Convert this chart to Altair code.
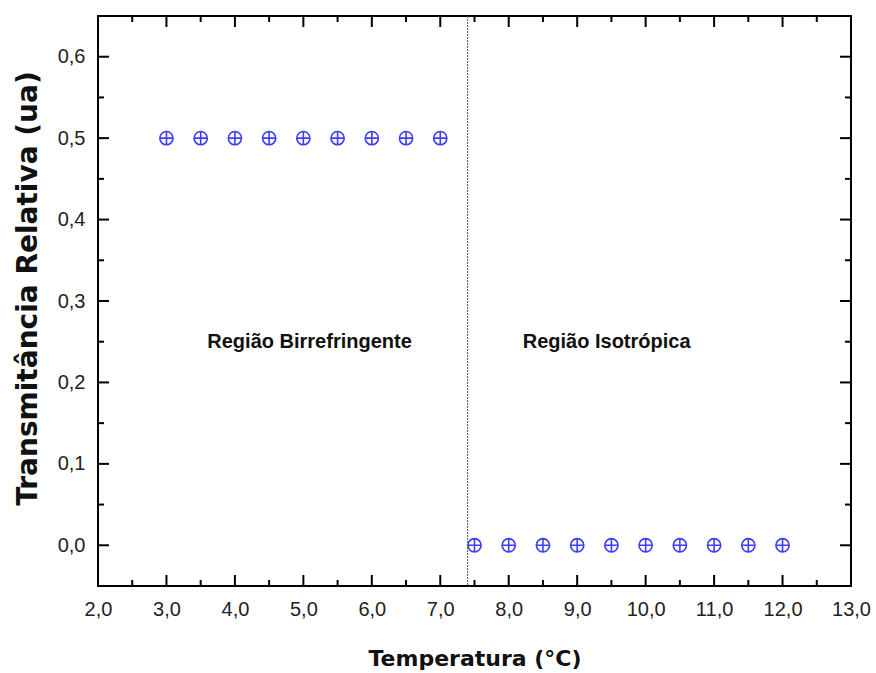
import altair as alt
import pandas as pd

# ---- data ----
temp_birref = [3.0, 3.5, 4.0, 4.5, 5.0, 5.5, 6.0, 6.5, 7.0]
trans_birref = [0.5, 0.5, 0.5, 0.5, 0.5, 0.5, 0.5, 0.5, 0.5]
temp_iso = [7.5, 8.0, 8.5, 9.0, 9.5, 10.0, 10.5, 11.0, 11.5, 12.0]
trans_iso = [0.0, 0.0, 0.0, 0.0, 0.0, 0.0, 0.0, 0.0, 0.0, 0.0]
transition_temp = [7.4]

x_label_values = [2.0, 3.0, 4.0, 5.0, 6.0, 7.0, 8.0, 9.0, 10.0, 11.0, 12.0, 13.0]
y_label_values = [0.0, 0.1, 0.2, 0.3, 0.4, 0.5, 0.6]
x_major = [3.0, 4.0, 5.0, 6.0, 7.0, 8.0, 9.0, 10.0, 11.0, 12.0]
x_minor = [2.5, 3.5, 4.5, 5.5, 6.5, 7.5, 8.5, 9.5, 10.5, 11.5, 12.5]
y_major = [0.0, 0.1, 0.2, 0.3, 0.4, 0.5, 0.6]
y_minor = [0.05, 0.15, 0.25, 0.35, 0.45, 0.55]

region_text = ["Região Birrefringente", "Região Isotrópica"]
region_x = [5.09, 9.43]
region_y = [0.25, 0.25]

# ---- tables ----
pts = pd.DataFrame({"t": temp_birref + temp_iso, "v": trans_birref + trans_iso})
trans_df = pd.DataFrame({"t": transition_temp})
xmaj_df = pd.DataFrame({"t": x_major})
xmin_df = pd.DataFrame({"t": x_minor})
ymaj_df = pd.DataFrame({"v": y_major})
ymin_df = pd.DataFrame({"v": y_minor})
reg_df = pd.DataFrame({"label": region_text, "t": region_x, "v": region_y})

W, H = 753, 570
xs = alt.Scale(domain=[2, 13], nice=False, zero=False)
ys = alt.Scale(domain=[-0.05, 0.65], nice=False, zero=False)
fmt = "replace(format(datum.value, '.1f'), '.', ',')"

xaxis = alt.Axis(
    values=x_label_values, labelExpr=fmt, ticks=False, domain=False, grid=False,
    labelPadding=13, labelOverlap=False, labelFlush=False,
    labelFont="Liberation Sans", labelFontSize=20, labelColor="#222",
    title="Temperatura (°C)", titleFont="DejaVu Sans", titleFontSize=22,
    titleFontWeight="bold", titleColor="#111", titleY=72, titleBaseline="middle")
yaxis = alt.Axis(
    values=y_label_values, labelExpr=fmt, ticks=False, domain=False, grid=False,
    labelPadding=13, labelOverlap=False, labelFlush=False,
    labelFont="Liberation Sans", labelFontSize=20, labelColor="#222",
    title="Transmitância Relativa (ua)", titleFont="DejaVu Sans", titleFontSize=28,
    titleFontWeight="bold", titleColor="#111", titleX=-70, titleY=272,
    titleBaseline="middle", titleAlign="center", titleAngle=-90)

def X(): return alt.X("t:Q", scale=xs, axis=xaxis)
def Y(): return alt.Y("v:Q", scale=ys, axis=yaxis)

circle_plus = "M-1,0A1,1,0,1,0,1,0A1,1,0,1,0,-1,0M-1,0L1,0M0,-1L0,1"

points = alt.Chart(pts).mark_point(
    shape=circle_plus, filled=False, color="#3d3dff", strokeWidth=1.6, size=175, opacity=1
).encode(x=X(), y=Y())

divider = alt.Chart(trans_df).mark_rule(color="#555555", strokeDash=[2, 1], strokeWidth=1).encode(x=X())

regions = alt.Chart(reg_df).mark_text(
    font="Liberation Sans", fontSize=20, fontWeight="bold", color="#111", baseline="middle", align="center"
).encode(x=X(), y=Y(), text="label:N")

def xticks(df, length):
    bottom = alt.Chart(df).mark_rule(color="black", strokeWidth=2).encode(
        x=X(), y=alt.value(H), y2=alt.value(H - length))
    top = alt.Chart(df).mark_rule(color="black", strokeWidth=2).encode(
        x=X(), y=alt.value(0), y2=alt.value(length))
    return [bottom, top]

def yticks(df, length):
    left = alt.Chart(df).mark_rule(color="black", strokeWidth=2).encode(
        y=Y(), x=alt.value(0), x2=alt.value(length))
    right = alt.Chart(df).mark_rule(color="black", strokeWidth=2).encode(
        y=Y(), x=alt.value(W), x2=alt.value(W - length))
    return [left, right]

layers = [points, divider] + xticks(xmaj_df, 11) + xticks(xmin_df, 6) + yticks(ymaj_df, 11) + yticks(ymin_df, 6) + [regions]

chart = alt.layer(*layers).properties(
    width=W, height=H,
    autosize=alt.AutoSizeParams(type="none"),
    padding={"left": 98, "top": 16, "right": 25, "bottom": 87},
    background="white",
).configure_view(
    stroke="black", strokeWidth=2
)

chart.save("out.html", embed_options={"renderer": "svg", "actions": False})
